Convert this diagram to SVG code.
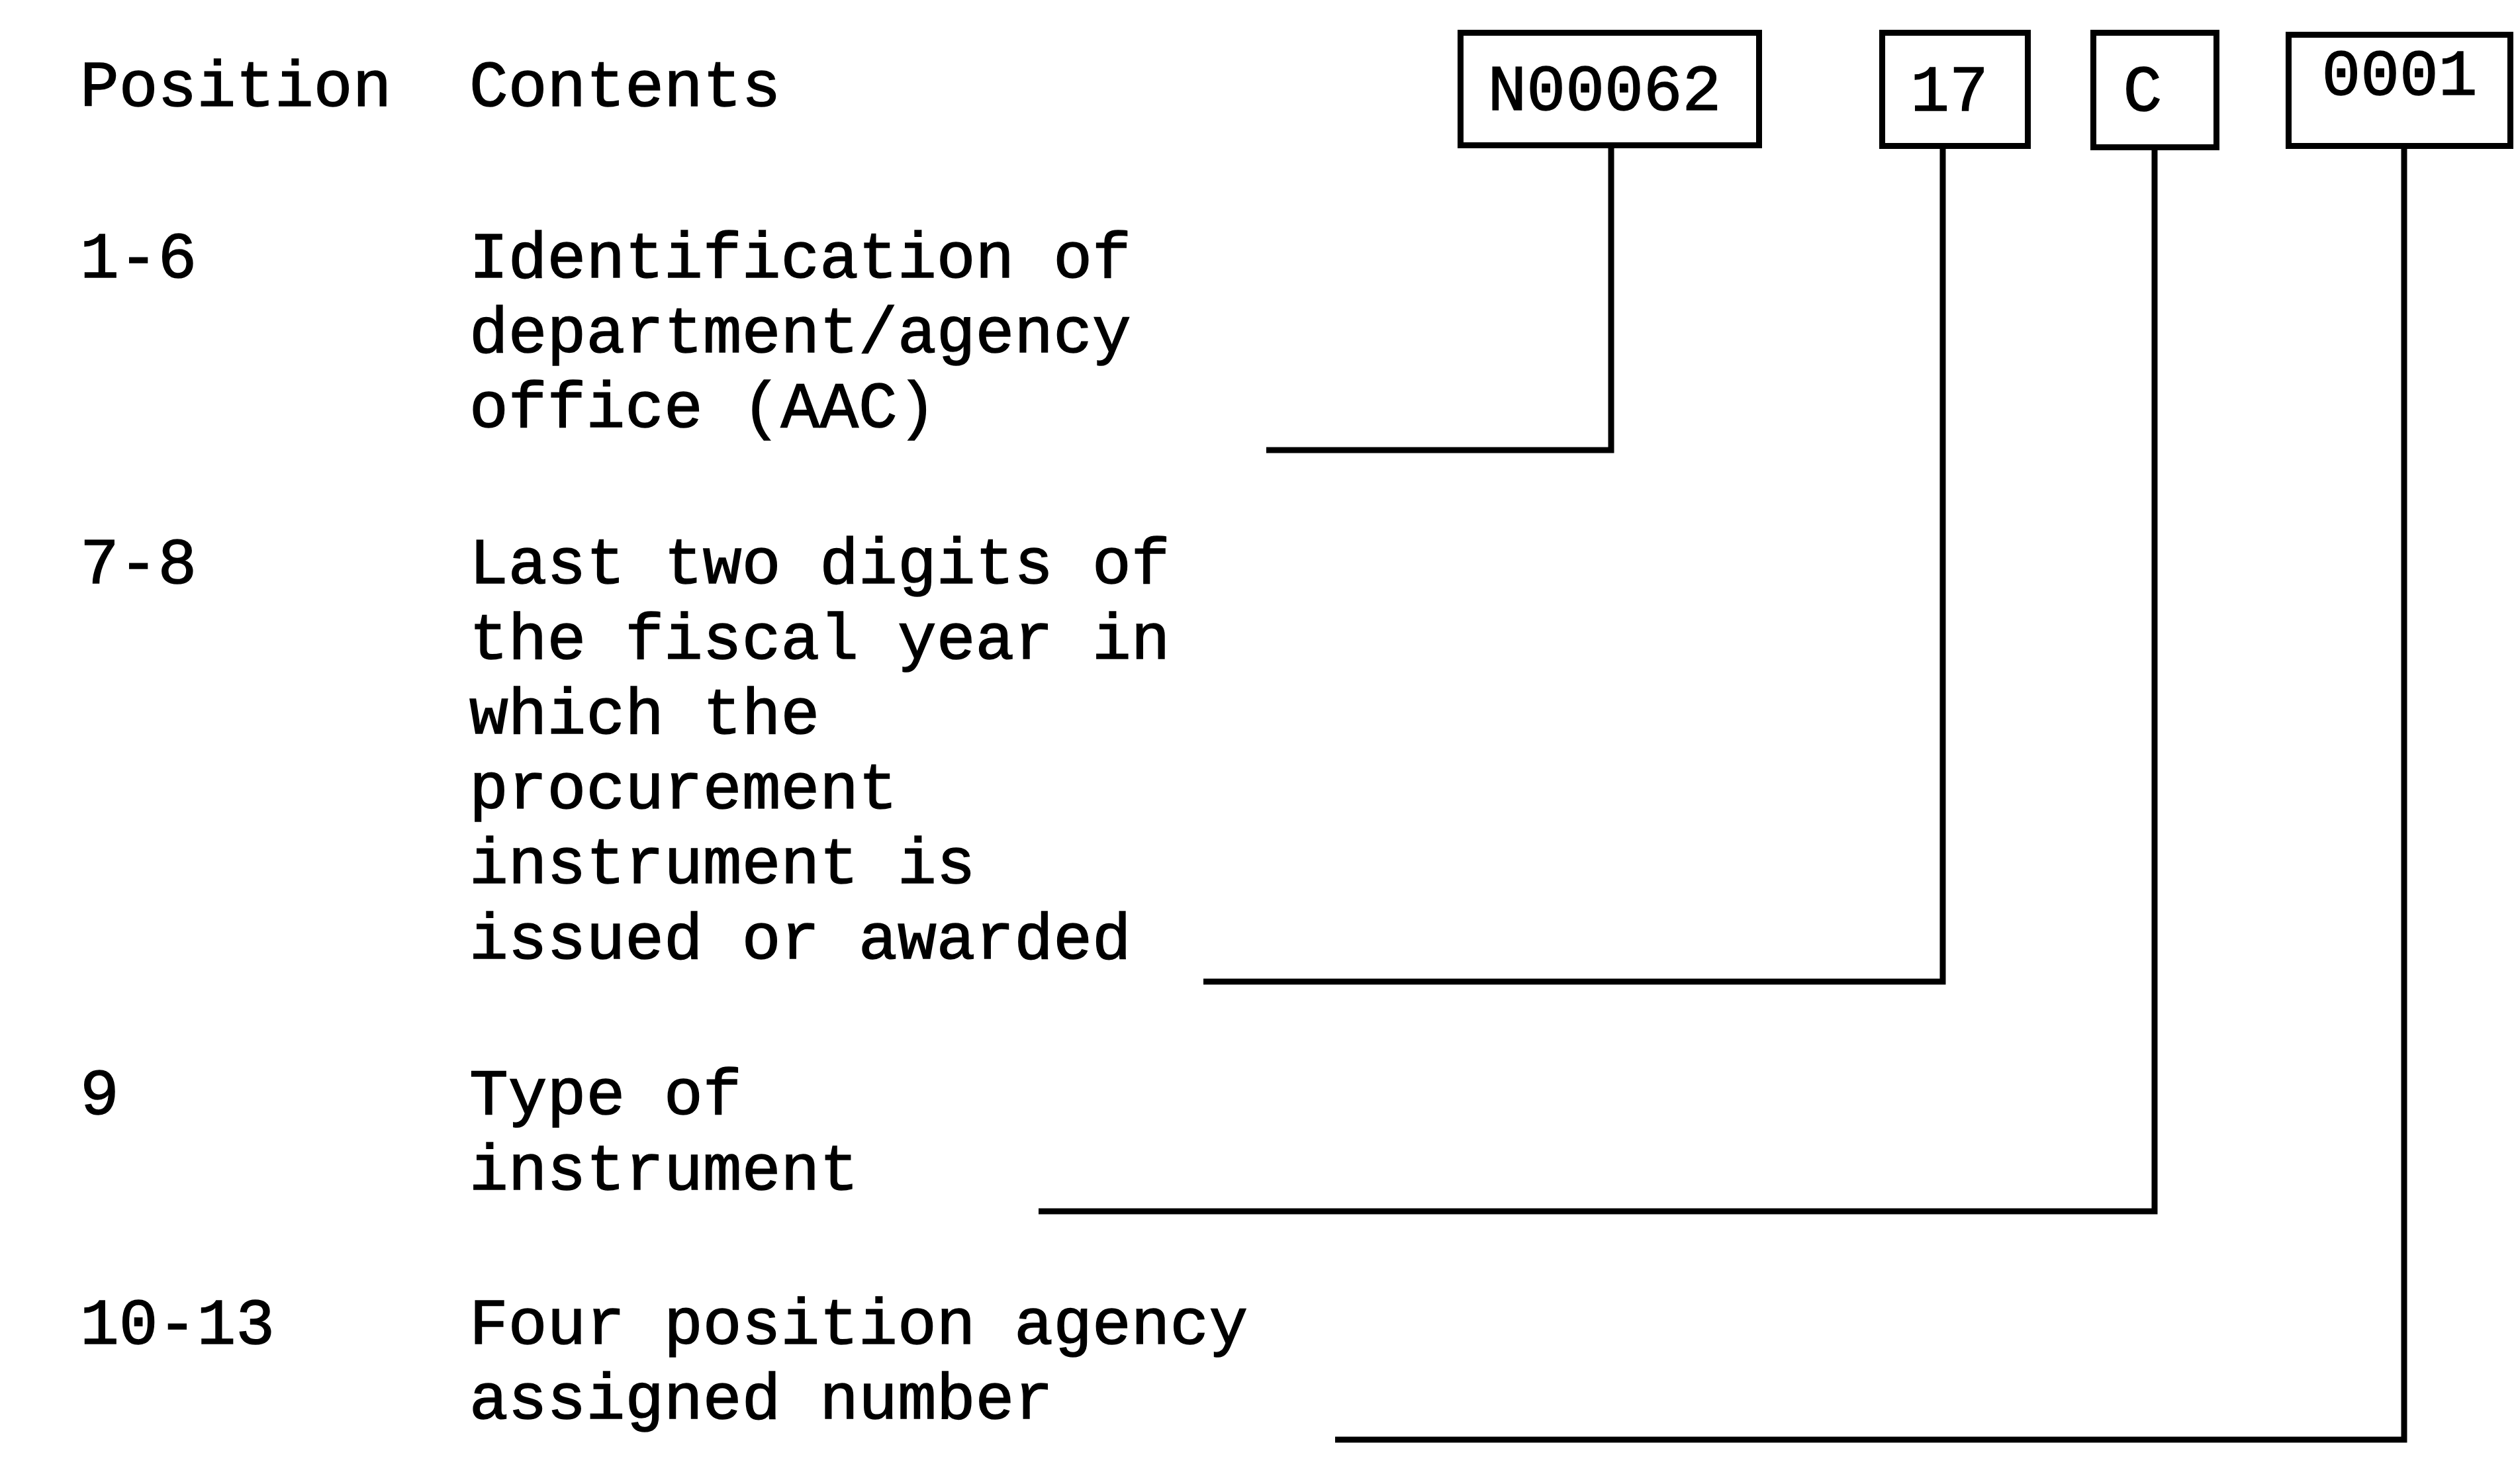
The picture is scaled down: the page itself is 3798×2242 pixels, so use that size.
<svg xmlns="http://www.w3.org/2000/svg" width="3798" height="2242" viewBox="0 0 3798 2242">
<style>
.t{font-family:"Liberation Mono","Courier New",monospace;font-size:98px;fill:#000;stroke:#000;stroke-width:1.5;}
.c{text-anchor:middle;}
.box{fill:#fff;stroke:#000;stroke-width:9;}
.ln{fill:none;stroke:#000;stroke-width:9;stroke-linejoin:miter;}
</style>
<rect width="3798" height="2242" fill="#fff"/>
<g id="labels">
<text class="t" x="121" y="160">Position</text>
<text class="t" x="709" y="160">Contents</text>
<text class="t" x="121" y="419">1-6</text>
<text class="t" x="709" y="419">Identification of</text>
<text class="t" x="709" y="532">department/agency</text>
<text class="t" x="709" y="645">office (AAC)</text>
<text class="t" x="121" y="881">7-8</text>
<text class="t" x="709" y="881">Last two digits of</text>
<text class="t" x="709" y="995">the fiscal year in</text>
<text class="t" x="709" y="1108">which the</text>
<text class="t" x="709" y="1221">procurement</text>
<text class="t" x="709" y="1334">instrument is</text>
<text class="t" x="709" y="1448">issued or awarded</text>
<text class="t" x="121" y="1683">9</text>
<text class="t" x="709" y="1683">Type of</text>
<text class="t" x="709" y="1797">instrument</text>
<text class="t" x="121" y="2030">10-13</text>
<text class="t" x="709" y="2030">Four position agency</text>
<text class="t" x="709" y="2143">assigned number</text>
</g>
<g id="connectors">
<path class="ln" d="M2434 224 V680 H1913"/>
<path class="ln" d="M2935 225 V1483 H1818"/>
<path class="ln" d="M3255 227 V1830 H1569"/>
<path class="ln" d="M3632 225 V2175 H2017"/>
</g>
<g id="node-n00062">
<rect class="box" x="2206.5" y="49.5" width="451" height="170"/>
<text class="t c" x="2424" y="166">N00062</text>
</g>
<g id="node-17">
<rect class="box" x="2843.5" y="49.5" width="220" height="171"/>
<text class="t c" x="2945" y="167">17</text>
</g>
<g id="node-c">
<rect class="box" x="3162.5" y="49.5" width="186" height="173"/>
<text class="t c" x="3237" y="167">C</text>
</g>
<g id="node-0001">
<rect class="box" x="3457.5" y="52.5" width="335" height="168"/>
<text class="t c" x="3625" y="143">0001</text>
</g>
</svg>
